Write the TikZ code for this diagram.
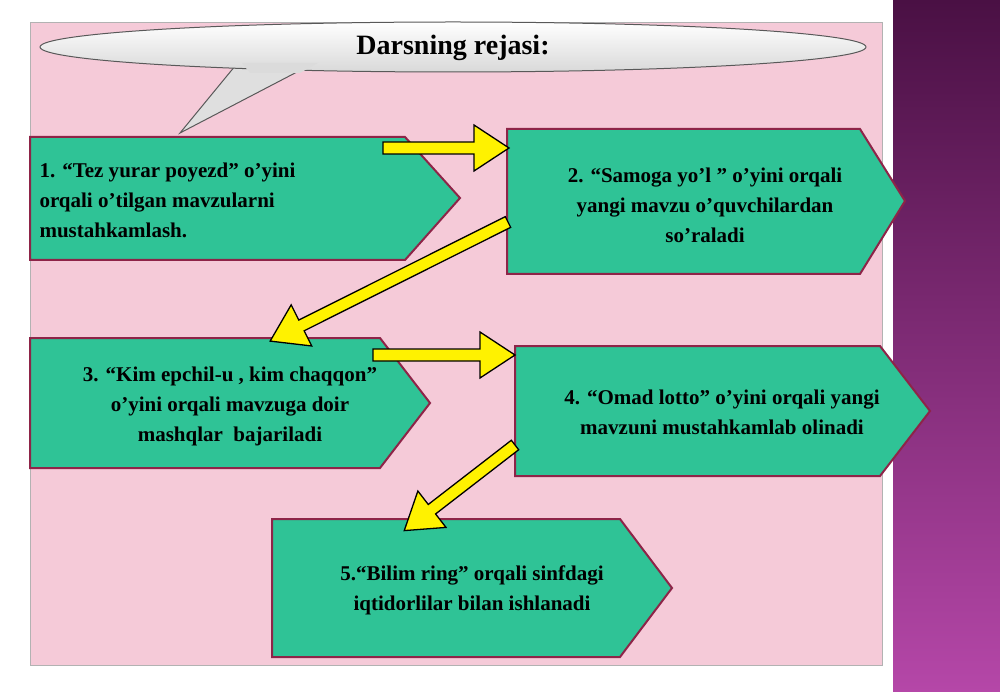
\documentclass[tikz,border=0pt]{standalone}
\usepackage{fontspec}
\setmainfont{Liberation Serif}
\definecolor{panel}{HTML}{F5CAD8}
\definecolor{teal}{HTML}{2FC396}
\definecolor{rim}{HTML}{8E2448}
\definecolor{barTop}{HTML}{4A1044}
\definecolor{barBot}{HTML}{B547A8}
\tikzset{
  box/.style={fill=teal, draw=rim, line width=2pt},
  boxtext/.style={font=\bfseries\fontsize{21}{30}\selectfont, align=center},
  yarrow/.style={fill=yellow, draw=black, line width=1.3pt}
}
% #1 start, #2 canvas angle, #3 length
\newcommand\yarr[3]{%
  \begin{scope}[shift={#1}, rotate=#2]
    \draw[yarrow] (0,-6) -- (#3-35,-6) -- (#3-35,-23) -- (#3,0) -- (#3-35,23) -- (#3-35,6) -- (0,6) -- cycle;
  \end{scope}}
\begin{document}
\begin{tikzpicture}[x=1pt,y=-1pt]
  \useasboundingbox (0,0) rectangle (1000,692);
  \fill[white] (0,0) rectangle (1000,692);
  % side bar and panel
  \shade[top color=barTop, bottom color=barBot] (893,0) rectangle (1000,692);
  \draw[fill=panel, draw=gray!60] (30,22) rectangle (882,665);
  % title callout
  \draw[fill=gray!25, draw=gray!70!black, line width=1pt] (180,133) -- (240,60) -- (320,60) -- cycle;
  \draw[top color=white, bottom color=gray!30, draw=gray!70!black, line width=1pt]
    (453,47) ellipse[x radius=413, y radius=25];
  \fill[gray!28] (242,63) -- (318,63) -- (300,73) -- (250,73) -- cycle;
  \node (title) at (453,48) [font=\bfseries\fontsize{28}{30}\selectfont] {Darsning rejasi:};
  % boxes
  \draw[box] (30,137) -- (405,137) -- (460,198) -- (405,260) -- (30,260) -- cycle;
  \draw[box] (507,129) -- (860,129) -- (905,201) -- (860,274) -- (507,274) -- cycle;
  \draw[box] (30,338) -- (380,338) -- (430,403) -- (380,468) -- (30,468) -- cycle;
  \draw[box] (515,346) -- (880,346) -- (930,411) -- (880,476) -- (515,476) -- cycle;
  \draw[box] (272,519) -- (620,519) -- (672,588) -- (620,657) -- (272,657) -- cycle;
  \node (s1) at (36,200) [boxtext, align=left, anchor=west]
    {1. “Tez yurar poyezd” o’yini\\orqali o’tilgan mavzularni\\mustahkamlash.};
  \node (s2) at (705,205) [boxtext] {2. “Samoga yo’l ” o’yini orqali\\yangi mavzu o’quvchilardan\\so’raladi};
  \node (s3) at (230,406) [boxtext] {3. “Kim epchil-u , kim chaqqon”\\o’yini orqali mavzuga doir\\mashqlar\ \ bajariladi};
  \node (s4) at (722,412) [boxtext] {4. “Omad lotto” o’yini orqali yangi\\mavzuni mustahkamlab olinadi};
  \node (s5) at (472,590) [boxtext] {5.“Bilim ring” orqali sinfdagi\\iqtidorlilar bilan ishlanadi};
  % yellow arrows
  \yarr{(383,148)}{0}{126}
  \yarr{(508,222)}{206.6}{266}
  \yarr{(373,355)}{0}{142}
  \yarr{(515,445)}{217.7}{140}
\end{tikzpicture}
\end{document}
